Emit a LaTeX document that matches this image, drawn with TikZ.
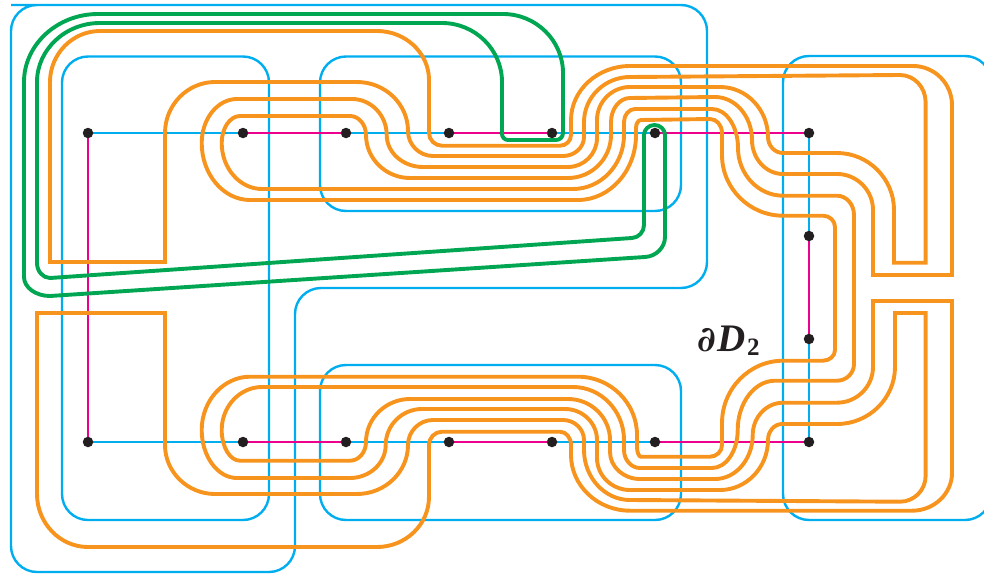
\documentclass[tikz,border=0pt]{standalone}
\usepackage{fontspec}
\newfontfamily\lblfont{Liberation Serif}
\newfontfamily\dlfont{DejaVu Serif}
\usetikzlibrary{calc}
\pgfdeclarelayer{under}
\pgfsetlayers{under,main}
\definecolor{cblue}{HTML}{00AEEF}
\definecolor{cmag}{HTML}{EC008C}
\definecolor{corange}{HTML}{F7941E}
\definecolor{cgreen}{HTML}{00A651}
\definecolor{cdot}{HTML}{231F20}
\tikzset{
  qc/.style={to path={.. controls ($(\tikztostart)!.55!(#1)$) and ($(\tikztotarget)!.55!(#1)$) .. (\tikztotarget) \tikztonodes}},
  dotnode/.style={circle,fill=cdot,inner sep=0pt,minimum size=10.5pt},
  disc/.style={draw=cblue,line width=2.4pt,rounded corners=26pt},
  bluearc/.style={draw=cblue,line width=2.4pt},
  magarc/.style={draw=cmag,line width=2.4pt},
  orangecurve/.style={draw=corange,line width=3.9pt,line join=miter},
  greencurve/.style={draw=cgreen,line width=3.9pt,line join=round},
}
\begin{document}
\begin{tikzpicture}[x=1pt,y=-1pt]
\useasboundingbox (0,0) rectangle (984,575);
\clip (0,0) rectangle (984,575);
% vertices
\foreach \n/\x in {a/88,b/243,c/346,d/449,e/552,f/655,g/809}{
  \node[dotnode] (t\n) at (\x,133) {};
  \node[dotnode] (u\n) at (\x,442) {};
}
\node[dotnode] (r1) at (809,236) {};
\node[dotnode] (r2) at (809,339) {};
\node[text=cdot,anchor=base west,inner sep=0pt] (lbl) at (697,351) {\bfseries\itshape{\dlfont\fontsize{35}{35}\selectfont ∂}\kern2pt{\lblfont\fontsize{39}{39}\selectfont D}\kern1pt\raisebox{-4pt}{\lblfont\upshape\fontsize{25}{25}\selectfont 2}};
\begin{pgfonlayer}{under}
% blue discs
\draw[disc] (37,5) -- (707,5) -- (707,288) -- (295,288) -- (295,572) -- (11,572) -- (11,5) -- cycle;
\draw[disc] (62,56.5) rectangle (269,520);
\draw[disc] (320,56.5) rectangle (681,211);
\draw[disc] (320,365) rectangle (681,520);
\draw[disc] (783,56) rectangle (991,520);
% arcs
\draw[bluearc] (ta)--(tb) (tc)--(td) (te)--(tf) (tg)--(r1) (r2)--(ug) (ua)--(ub) (uc)--(ud) (ue)--(uf);
\draw[magarc] (ta)--(ua) (tb)--(tc) (td)--(te) (tf)--(tg) (r1)--(r2) (ub)--(uc) (ud)--(ue) (uf)--(ug);
% orange curve
\draw[orangecurve] (50,262) -- (165,262) -- (165,133) to[qc={165,82}] (215,82) -- (357,82)
 to[qc={408,82}] (408,131) to[qc={408,156}] (433,156) -- (563,156) to[qc={584,156}] (584,137) -- (584,122)
 to[qc={584,77}] (630,77) -- (900,75) to[qc={925.6,75}] (925.6,102) -- (925.6,262.7) -- (894,262.7) -- (894,210)
 to[qc={894,153}] (837,153) -- (783,153) to[qc={768,153}] (768,137) to[qc={768,87}] (720,87) -- (630,87)
 to[qc={597,87}] (597,120) -- (597,138) to[qc={597,167}] (568,167) -- (423,167) to[qc={386.7,167}] (386.7,135)
 to[qc={386.7,99}] (352,99) -- (237,99) to[qc={201.7,99}] (201.7,143) to[qc={201.7,200}] (250,200) -- (578,200)
 to[qc={636,200}] (636,135) -- (636,128) to[qc={636,120}] (641,120) -- (710,119) to[qc={722,119}] (722,133) -- (722,155)
 to[qc={722,215.7}] (783,215.7) -- (823,215.7) to[qc={835,215.7}] (835,227) -- (835,350) to[qc={835,360.7}] (823,360.7)
 -- (783,360.7) to[qc={722,360.7}] (722,423) -- (722,445) to[qc={722,456.7}] (710,456.7) -- (641,456.7)
 to[qc={637,456.7}] (637,447) -- (637,435) to[qc={637,376.7}] (578,376.7) -- (250,376.7) to[qc={201.7,376.7}] (201.7,430)
 to[qc={201.7,478}] (237,478) -- (350,478) to[qc={385.7,478}] (385.7,445) to[qc={385.7,409}] (422,409) -- (565,409)
 to[qc={597,409}] (597,440) -- (597,458) to[qc={597,490}] (630,490) -- (720,490) to[qc={768,490}] (768,440)
 to[qc={768,424}] (782,424) -- (837,424) to[qc={895,424}] (895,367) -- (895,313) -- (925.6,313) -- (925.6,476)
 to[qc={925.6,501.7}] (900,501.7) -- (630,500) to[qc={584,500}] (584,450) -- (584,440) to[qc={584,420}] (563,420)
 -- (433,420) to[qc={408,420}] (408,445) to[qc={408,494}] (357,494) -- (215,494) to[qc={165,494}] (165,445) -- (165,313)
 -- (37,313) -- (37,494) to[qc={37,547}] (88,547) -- (377,547) to[qc={429,547}] (429,497) -- (429,445)
 to[qc={429,431.7}] (442,431.7) -- (560,431.7) to[qc={571,431.7}] (571,445) -- (571,455) to[qc={571,510.7}] (630,510.7)
 -- (912,510.7) to[qc={952,510.7}] (952,473) -- (952,301) -- (873,301) -- (873,367) to[qc={873,402.7}] (837,402.7)
 -- (783,402.7) to[qc={752.7,402.7}] (752.7,435) to[qc={752.7,479}] (715,479) -- (640,479) to[qc={610,479}] (610,452)
 -- (610,440) to[qc={610,399}] (568,399) -- (410,399) to[qc={366,399}] (366,442) to[qc={366,460.7}] (350,460.7)
 -- (240,460.7) to[qc={221.7,460.7}] (221.7,430) to[qc={221.7,387}] (262,387) -- (573,387) to[qc={624,387}] (624,440)
 -- (624,450) to[qc={624,468}] (640,468) -- (712,468) to[qc={737.7,468}] (737.7,430) to[qc={737.7,380.7}] (775,380.7)
 -- (837,380.7) to[qc={854,380.7}] (854,364) -- (854,215) to[qc={854,195.7}] (837,195.7) -- (783,195.7)
 to[qc={738,195.7}] (738,148) to[qc={738,109}] (712,109) -- (635,109) to[qc={624,109}] (624,122) -- (624,135)
 to[qc={624,189}] (573,189) -- (262,189) to[qc={221.7,189}] (221.7,143) to[qc={221.7,116}] (240,116) -- (350,116)
 to[qc={366,116}] (366,135) to[qc={366,178}] (410,178) -- (568,178) to[qc={611,178}] (611,135) -- (611,122)
 to[qc={611,98}] (630,98) -- (715,97) to[qc={752,97}] (752,140) to[qc={752,174}] (783,174) -- (837,174)
 to[qc={873,174}] (873,210) -- (873,275) -- (952,275) -- (952,105) to[qc={952,66}] (913,66) -- (630,66)
 to[qc={571,66}] (571,120) -- (571,135) to[qc={571,145.7}] (560,145.7) -- (442,145.7) to[qc={429,145.7}] (429,133)
 -- (429,80) to[qc={429,31}] (377,31) -- (100,31) to[qc={50,31}] (50,82) -- cycle;
% green curve
\draw[greencurve] (98,14) to[qc={24,14}] (24,82) -- (24,277) to[qc={24,296}] (50,296) -- (645,257)
 to[qc={665,256}] (665,237) -- (665,135) to[qc={665,125}] (654.5,125) to[qc={644,125}] (644,135) -- (644,225)
 to[qc={644,237.5}] (632,238) -- (50,278) to[qc={37,278}] (37,263) -- (37,82) to[qc={37,23}] (100,23) -- (442,23)
 to[qc={502,23}] (502,82) -- (502,134) to[qc={502,140}] (508,140) -- (556,140) to[qc={563,140}] (563,133)
 -- (563,73) to[qc={563,14}] (503,14) -- cycle;
\end{pgfonlayer}
\end{tikzpicture}
\end{document}
